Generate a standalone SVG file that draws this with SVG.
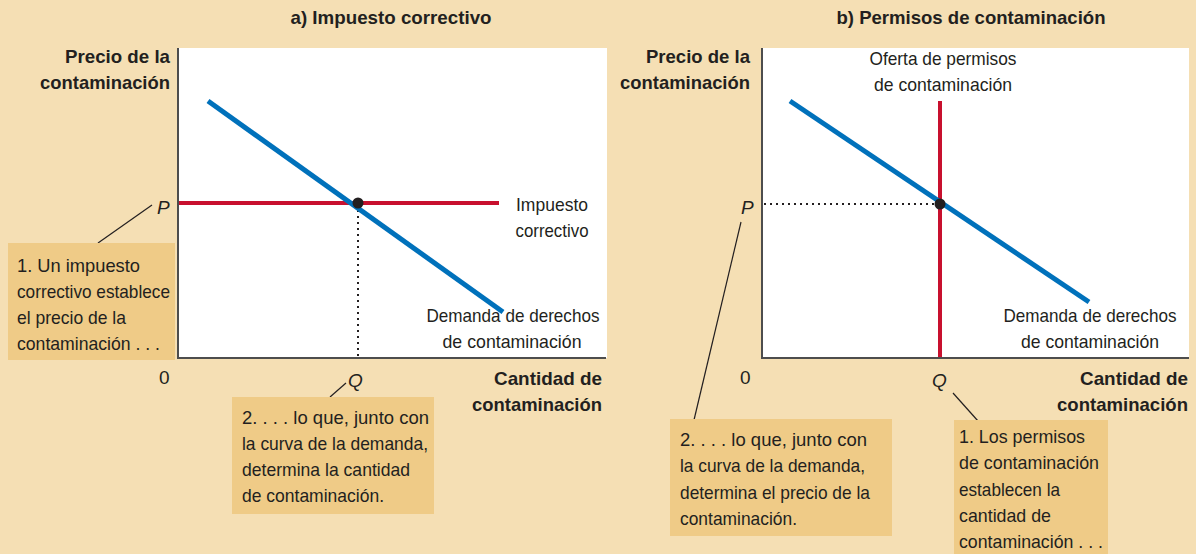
<svg xmlns="http://www.w3.org/2000/svg" width="1196" height="554" viewBox="0 0 1196 554">
<style>
text{font-family:"Liberation Sans Narrow","Liberation Sans",Arial,sans-serif;font-size:19px;fill:#231f20}
.b{font-weight:bold}
.t{font-weight:bold;font-size:19px}
.i{font-style:italic}
.r{text-anchor:end}
.m{text-anchor:middle}
.plot{fill:#ffffff}
.axis{stroke:#4d4d4d;stroke-width:2;fill:none}
.dem{stroke:#0071bb;stroke-width:5;fill:none}
.sup{stroke:#c8102e;stroke-width:4;fill:none}
.dot{stroke:#231f20;stroke-width:2;stroke-dasharray:2 4;fill:none}
.lead{stroke:#231f20;stroke-width:1.2;fill:none}
.box{fill:#efcb87}
</style>
<rect width="1196" height="554" fill="#f5dfb4"/>

<g id="panel-a">
  <text class="t m" x="391" y="24" textLength="201" lengthAdjust="spacingAndGlyphs">a) Impuesto correctivo</text>
  <rect class="plot" x="178" y="48" width="429" height="310"/>
  <path class="axis" d="M178 48V358H606"/>
  <text class="b r" x="170" y="63" textLength="105" lengthAdjust="spacingAndGlyphs">Precio de la</text>
  <text class="b r" x="170" y="89" textLength="130" lengthAdjust="spacingAndGlyphs">contaminación</text>
  <text class="b r" x="602" y="385" textLength="108" lengthAdjust="spacingAndGlyphs">Cantidad de</text>
  <text class="b r" x="602" y="411" textLength="130" lengthAdjust="spacingAndGlyphs">contaminación</text>
  <text x="159" y="384">0</text>
  <text class="i" x="348" y="387">Q</text>
  <text class="i" x="157" y="214">P</text>
</g>

<g id="panel-b">
  <text class="t m" x="971" y="24" textLength="269" lengthAdjust="spacingAndGlyphs">b) Permisos de contaminación</text>
  <rect class="plot" x="762" y="48" width="427" height="310"/>
  <path class="axis" d="M762 48V358H1189"/>
  <text class="b r" x="750" y="63" textLength="104" lengthAdjust="spacingAndGlyphs">Precio de la</text>
  <text class="b r" x="750" y="89" textLength="130" lengthAdjust="spacingAndGlyphs">contaminación</text>
  <text class="b r" x="1188" y="385" textLength="108" lengthAdjust="spacingAndGlyphs">Cantidad de</text>
  <text class="b r" x="1188" y="411" textLength="131" lengthAdjust="spacingAndGlyphs">contaminación</text>
  <text x="740" y="384">0</text>
  <text class="i" x="932" y="387">Q</text>
  <text class="i" x="741" y="214">P</text>
</g>

<g id="connectors">
  <line class="dot" x1="358" y1="210" x2="358" y2="357"/>
  <line class="sup" x1="179" y1="203" x2="499" y2="203"/>
  <line class="dem" x1="208" y1="101" x2="503" y2="312"/>
  <line class="dot" x1="764" y1="204" x2="934" y2="204"/>
  <line class="sup" x1="940" y1="101" x2="940" y2="357"/>
  <line class="dem" x1="790" y1="101" x2="1089" y2="302"/>
  <line class="lead" x1="98" y1="243" x2="152" y2="205"/>
  <line class="lead" x1="330" y1="397" x2="346" y2="383"/>
  <line class="lead" x1="694" y1="420" x2="741" y2="222"/>
  <line class="lead" x1="953" y1="393" x2="978" y2="421"/>
</g>

<g id="eq-a"><circle cx="358" cy="203" r="5.5" fill="#231f20"/></g>
<g id="eq-b"><circle cx="940" cy="204" r="5.5" fill="#231f20"/></g>

<g id="label-impuesto">
  <text class="m" x="552" y="211" textLength="72" lengthAdjust="spacingAndGlyphs">Impuesto</text>
  <text class="m" x="552" y="237" textLength="73" lengthAdjust="spacingAndGlyphs">correctivo</text>
</g>
<g id="label-demanda-a">
  <text class="m" x="513" y="322" textLength="173" lengthAdjust="spacingAndGlyphs">Demanda de derechos</text>
  <text class="m" x="512" y="348" textLength="139" lengthAdjust="spacingAndGlyphs">de contaminación</text>
</g>
<g id="label-oferta">
  <text class="m" x="943" y="65" textLength="147" lengthAdjust="spacingAndGlyphs">Oferta de permisos</text>
  <text class="m" x="943" y="91" textLength="138" lengthAdjust="spacingAndGlyphs">de contaminación</text>
</g>
<g id="label-demanda-b">
  <text class="m" x="1090" y="322" textLength="173" lengthAdjust="spacingAndGlyphs">Demanda de derechos</text>
  <text class="m" x="1090" y="348" textLength="138" lengthAdjust="spacingAndGlyphs">de contaminación</text>
</g>

<g id="note-a1">
  <rect class="box" x="8" y="243" width="167" height="117"/>
  <text x="17" y="272" textLength="123" lengthAdjust="spacingAndGlyphs">1.  Un impuesto</text>
  <text x="17" y="298" textLength="153" lengthAdjust="spacingAndGlyphs">correctivo establece</text>
  <text x="17" y="324" textLength="109" lengthAdjust="spacingAndGlyphs">el precio de la</text>
  <text x="17" y="350" textLength="143" lengthAdjust="spacingAndGlyphs">contaminación . . .</text>
</g>
<g id="note-a2">
  <rect class="box" x="232" y="397" width="202" height="117"/>
  <text x="242" y="424" textLength="187" lengthAdjust="spacingAndGlyphs">2.  . . . lo que, junto con</text>
  <text x="242" y="450" textLength="186" lengthAdjust="spacingAndGlyphs">la curva de la demanda,</text>
  <text x="242" y="476" textLength="168" lengthAdjust="spacingAndGlyphs">determina la cantidad</text>
  <text x="242" y="502" textLength="142" lengthAdjust="spacingAndGlyphs">de contaminación.</text>
</g>
<g id="note-b2">
  <rect class="box" x="670" y="419" width="222" height="117"/>
  <text x="680" y="446" textLength="187" lengthAdjust="spacingAndGlyphs">2.  . . . lo que, junto con</text>
  <text x="680" y="472" textLength="185" lengthAdjust="spacingAndGlyphs">la curva de la demanda,</text>
  <text x="680" y="499" textLength="190" lengthAdjust="spacingAndGlyphs">determina el precio de la</text>
  <text x="680" y="525" textLength="117" lengthAdjust="spacingAndGlyphs">contaminación.</text>
</g>
<g id="note-b1">
  <rect class="box" x="954" y="420" width="154" height="134"/>
  <text x="959" y="443" textLength="126" lengthAdjust="spacingAndGlyphs">1.  Los permisos</text>
  <text x="959" y="469" textLength="140" lengthAdjust="spacingAndGlyphs">de contaminación</text>
  <text x="959" y="496" textLength="101" lengthAdjust="spacingAndGlyphs">establecen la</text>
  <text x="959" y="522" textLength="92" lengthAdjust="spacingAndGlyphs">cantidad de</text>
  <text x="959" y="548" textLength="144" lengthAdjust="spacingAndGlyphs">contaminación . . .</text>
</g>
</svg>
